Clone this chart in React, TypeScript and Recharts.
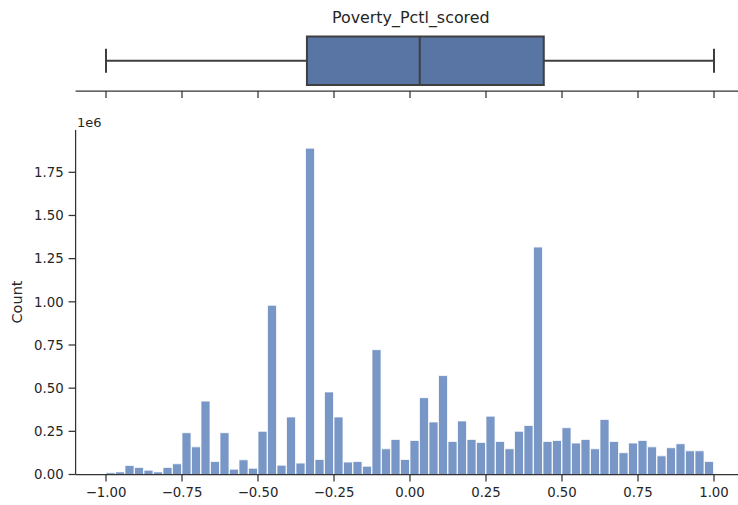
import React from "react";
import {
  BarChart,
  Bar,
  ComposedChart,
  Scatter,
  XAxis,
  YAxis,
  ReferenceArea,
  ReferenceLine,
} from "recharts";

// histogram bins span [-1, 1]
const BIN_MIN = -1;
const BIN_MAX = 1;

const counts = [
  10000, 15000, 52000, 41000, 25000, 15000, 41000, 62000,
  242000, 160000, 425000, 75000, 242000, 31000, 85000, 36000,
  250000, 980000, 54000, 333000, 66000, 1890000, 87000, 478000,
  333000, 72000, 75000, 48000, 723000, 149000, 203000, 87000,
  197000, 445000, 304000, 573000, 191000, 310000, 203000, 186000,
  338000, 191000, 149000, 250000, 284000, 1317000, 191000, 197000,
  271000, 182000, 203000, 149000, 319000, 191000, 126000, 182000,
  197000, 160000, 108000, 155000, 178000, 137000, 137000, 75000,
];

const xTicks = [-1, -0.75, -0.5, -0.25, 0, 0.25, 0.5, 0.75, 1];
const yTicks = [0, 250000, 500000, 750000, 1000000, 1250000, 1500000, 1750000];

// box plot summary
const whiskerLow = -1;
const q1 = -0.339;
const median = 0.032;
const q3 = 0.44;
const whiskerHigh = 1;

const binWidth = (BIN_MAX - BIN_MIN) / counts.length;
const histData = counts.map((c, i) => ({
  x: BIN_MIN + (i + 0.5) * binWidth,
  count: c,
}));
const boxData = [whiskerLow, q1, median, q3, whiskerHigh].map((x) => ({ x, y: 0 }));

const FONT = "DejaVu Sans, sans-serif";
const TEXT = "#262626";
const AXIS = "#333333";
const EDGE = "#3f3f3f";
const HIST = "#7896c6";
const BOX = "#5875a4";
const X_DOMAIN: [number, number] = [-1.1, 1.1];

const fmtX = (v: number) => v.toFixed(2).replace("-", "\u2212");
const fmtY = (v: number) => (v / 1e6).toFixed(2);

const tickStyle = { fill: TEXT, fontSize: 13.3, fontFamily: FONT };
const lineStyle = { stroke: AXIS, strokeWidth: 1.25 };

function BoxPanel() {
  return (
    <ComposedChart
      width={760}
      height={110}
      data={boxData}
      margin={{ top: 30.5, right: 15.6, bottom: 0, left: 75.6 }}
    >
      <XAxis
        type="number"
        dataKey="x"
        domain={X_DOMAIN}
        allowDataOverflow
        ticks={xTicks}
        interval={0}
        tickFormatter={() => ""}
        tickSize={7}
        height={19}
        axisLine={lineStyle}
        tickLine={lineStyle}
      />
      <YAxis type="number" dataKey="y" domain={[-0.5, 0.5]} hide />
      <ReferenceLine
        segment={[{ x: whiskerLow, y: 0 }, { x: q1, y: 0 }]}
        stroke={EDGE}
        strokeWidth={2}
      />
      <ReferenceLine
        segment={[{ x: q3, y: 0 }, { x: whiskerHigh, y: 0 }]}
        stroke={EDGE}
        strokeWidth={2}
      />
      <ReferenceLine
        segment={[{ x: whiskerLow, y: -0.2 }, { x: whiskerLow, y: 0.2 }]}
        stroke={EDGE}
        strokeWidth={2}
      />
      <ReferenceLine
        segment={[{ x: whiskerHigh, y: -0.2 }, { x: whiskerHigh, y: 0.2 }]}
        stroke={EDGE}
        strokeWidth={2}
      />
      <ReferenceArea
        x1={q1}
        x2={q3}
        y1={-0.4}
        y2={0.4}
        fill={BOX}
        fillOpacity={1}
        stroke={EDGE}
        strokeWidth={2}
      />
      <ReferenceLine
        segment={[{ x: median, y: -0.4 }, { x: median, y: 0.4 }]}
        stroke={EDGE}
        strokeWidth={2}
      />
      <Scatter dataKey="y" isAnimationActive={false} shape={() => <g />} />
    </ComposedChart>
  );
}

function HistPanel() {
  return (
    <BarChart
      width={760}
      height={395}
      data={histData}
      margin={{ top: 20, right: 15.6, bottom: 0, left: 15.6 }}
      barCategoryGap={0}
      barGap={0}
    >
      <XAxis
        type="number"
        dataKey="x"
        domain={X_DOMAIN}
        allowDataOverflow
        ticks={xTicks}
        interval={0}
        tickFormatter={fmtX}
        tickSize={7}
        tickMargin={6.5}
        height={30.5}
        tick={tickStyle}
        axisLine={lineStyle}
        tickLine={lineStyle}
      />
      <YAxis
        type="number"
        domain={[0, 1995000]}
        allowDataOverflow
        ticks={yTicks}
        interval={0}
        tickFormatter={fmtY}
        tickSize={7}
        tickMargin={5}
        width={60}
        tick={tickStyle}
        axisLine={lineStyle}
        tickLine={lineStyle}
      />
      <Bar
        dataKey="count"
        fill={HIST}
        stroke="#ffffff"
        strokeWidth={0.75}
        isAnimationActive={false}
      />
    </BarChart>
  );
}

export default function App() {
  return (
    <div
      style={{
        position: "fixed",
        top: 0,
        left: 0,
        width: 738,
        height: 505,
        overflow: "hidden",
        background: "#fff",
      }}
    >
      <div style={{ position: "absolute", top: 0, left: 0 }}>
        <BoxPanel />
      </div>
      <div style={{ position: "absolute", top: 110, left: 0 }}>
        <HistPanel />
      </div>
      <svg
        width={738}
        height={505}
        style={{ position: "absolute", top: 0, left: 0, pointerEvents: "none" }}
        fontFamily={FONT}
        fill={TEXT}
      >
        <text x={410.8} y={23.3} fontSize={15.9} textAnchor="middle">
          Poverty_Pctl_scored
        </text>
        <text x={77} y={126.7} fontSize={13}>
          1e6
        </text>
        <text
          x={21.5}
          y={302}
          fontSize={14.5}
          textAnchor="middle"
          transform="rotate(-90 21.5 302)"
        >
          Count
        </text>
      </svg>
    </div>
  );
}
